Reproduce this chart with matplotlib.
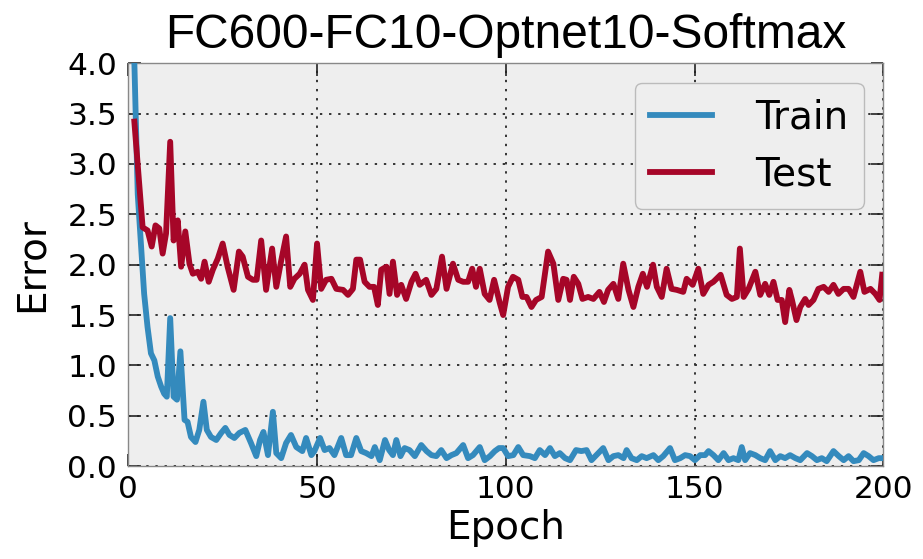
import numpy as np
import matplotlib
matplotlib.use("Agg")
import matplotlib.pyplot as plt

# values
train_epoch = [1.2, 2.5, 3.4, 4.2, 5.1, 6.0, 6.9, 7.8, 8.7, 9.5, 10.2, 11.1, 12.0, 12.9, 13.8,
               14.9, 15.7, 16.6, 17.8, 18.8, 19.9, 20.8, 21.9, 23.3, 24.6, 25.7, 26.8, 28.1,
               29.4, 31.0, 32.5, 33.9, 34.9, 35.8, 37.0, 38.3, 39.2, 40.5, 41.8, 43.1, 44.5,
               46.1, 47.1, 48.5, 49.3, 50.8, 52.0, 53.3, 54.6, 56.4, 57.7, 59.0, 60.4, 61.7,
               63.0, 64.4, 65.3, 66.6, 68.0, 69.1, 70.1, 71.0, 72.1, 73.2, 74.5, 75.9, 77.6,
               79.0, 80.3, 81.6, 82.9, 84.3, 85.6, 86.9, 88.7, 90.0, 91.3, 93.1, 94.4, 95.8,
               97.1, 98.2, 99.3, 100.6, 102.0, 103.3, 104.6, 106.4, 107.7, 109.0, 110.4, 111.7,
               113.0, 114.3, 115.7, 117.0, 118.6, 120.0, 121.4, 122.7, 124.0, 125.8, 127.2,
               128.5, 129.8, 131.2, 132.0, 133.3, 134.7, 136.0, 137.3, 139.1, 140.4, 141.7,
               143.5, 144.8, 146.2, 147.5, 148.8, 150.1, 151.5, 152.8, 153.7, 155.0, 156.3,
               157.7, 159.0, 160.3, 161.6, 162.5, 163.4, 164.7, 166.1, 167.4, 168.7, 170.0,
               171.4, 172.7, 174.0, 175.3, 176.7, 178.0, 179.8, 181.1, 182.4, 183.7, 185.0,
               186.8, 188.2, 189.5, 190.8, 192.1, 193.5, 194.8, 196.1, 197.4, 198.8, 199.7]
train_err = [4.6, 2.7, 2.18, 1.71, 1.38, 1.12, 1.05, 0.89, 0.79, 0.72, 0.69, 1.47, 0.69, 0.66, 1.14,
             0.46, 0.44, 0.29, 0.24, 0.36, 0.64, 0.36, 0.29, 0.26, 0.33, 0.38, 0.31, 0.28,
             0.33, 0.36, 0.23, 0.10, 0.26, 0.34, 0.11, 0.54, 0.13, 0.08, 0.23, 0.31, 0.19,
             0.15, 0.28, 0.11, 0.15, 0.28, 0.16, 0.18, 0.11, 0.28, 0.11, 0.11, 0.28, 0.15,
             0.13, 0.10, 0.19, 0.06, 0.26, 0.16, 0.11, 0.26, 0.10, 0.18, 0.16, 0.10, 0.21,
             0.15, 0.11, 0.10, 0.16, 0.08, 0.11, 0.13, 0.21, 0.08, 0.11, 0.19, 0.06, 0.10,
             0.15, 0.18, 0.18, 0.10, 0.11, 0.19, 0.11, 0.10, 0.08, 0.16, 0.11, 0.18,
             0.10, 0.13, 0.08, 0.06, 0.16, 0.15, 0.16, 0.06, 0.11, 0.18, 0.06,
             0.10, 0.11, 0.08, 0.16, 0.08, 0.06, 0.10, 0.08, 0.11, 0.06, 0.10,
             0.18, 0.06, 0.08, 0.11, 0.10, 0.06, 0.11, 0.11, 0.15, 0.11, 0.06,
             0.13, 0.06, 0.08, 0.06, 0.19, 0.06, 0.13, 0.11, 0.08, 0.06, 0.15,
             0.06, 0.10, 0.08, 0.11, 0.08, 0.06, 0.13, 0.10, 0.06, 0.08, 0.05,
             0.15, 0.10, 0.06, 0.10, 0.05, 0.06, 0.13, 0.10, 0.06, 0.08, 0.08]

test_epoch = [1.6, 3.8, 5.1, 6.2, 7.2, 8.2, 9.1, 10.0, 11.1, 12.0, 13.1, 14.0, 15.1, 16.2, 17.1,
              18.4, 19.3, 20.2, 21.3, 22.4, 23.7, 25.0, 26.3, 27.9, 29.3, 30.3, 31.7, 33.0,
              34.0, 35.2, 36.5, 38.1, 39.2, 40.5, 41.8, 42.9, 44.0, 45.4, 46.7, 47.6, 48.9,
              50.0, 51.1, 52.4, 53.8, 55.1, 56.9, 58.2, 59.5, 60.4, 61.4, 62.6, 63.9, 65.1,
              66.1, 67.0, 68.4, 69.2, 70.1, 71.2, 72.3, 73.6, 75.0, 76.1, 77.2, 78.9, 80.3,
              81.6, 83.1, 84.3, 86.0, 87.4, 88.7, 90.0, 91.1, 92.1, 93.1, 94.4, 95.7, 96.9,
              98.4, 99.3, 100.6, 101.9, 103.3, 104.4, 105.5, 106.8, 108.0, 109.5, 111.2,
              112.6, 113.9, 115.2, 116.1, 117.0, 118.0, 119.2, 120.3, 121.8, 123.2, 124.8,
              126.0, 127.1, 128.5, 129.8, 131.1, 132.5, 133.8, 135.1, 136.3, 137.4, 139.0,
              140.0, 141.3, 142.6, 143.9, 145.3, 147.0, 147.9, 149.5, 151.0, 152.3, 153.7,
              155.0, 156.9, 158.5, 159.9, 161.2, 162.0, 163.0, 164.3, 166.1, 167.4, 168.7,
              169.8, 170.9, 172.0, 173.1, 174.0, 175.1, 175.8, 177.0, 178.0, 179.3, 180.2,
              181.5, 182.8, 184.2, 185.5, 186.8, 188.1, 189.5, 190.8, 192.1, 193.9, 195.0,
              196.6, 197.9, 199.0, 199.7]
test_err = [3.42, 2.37, 2.34, 2.18, 2.39, 2.36, 2.11, 2.31, 3.22, 2.24, 2.44, 1.98, 2.33, 2.01, 1.91,
            1.93, 1.86, 2.03, 1.83, 1.95, 2.06, 2.21, 1.98, 1.75, 2.13, 2.08, 1.88, 1.85,
            1.85, 2.24, 1.75, 2.16, 1.78, 2.04, 2.28, 1.78, 1.86, 1.91, 2.00, 1.75, 1.65,
            2.21, 1.76, 1.85, 1.86, 1.76, 1.75, 1.70, 1.76, 2.05, 2.05, 1.83, 1.78, 1.78,
            1.60, 1.95, 1.98, 1.71, 2.03, 1.70, 1.80, 1.66, 1.83, 1.91, 1.80, 1.85, 1.70,
            1.76, 2.08, 1.76, 2.01, 1.85, 1.83, 1.83, 1.96, 1.78, 1.96, 1.71, 1.65, 1.85,
            1.62, 1.50, 1.78, 1.88, 1.85, 1.68, 1.68, 1.58, 1.65, 1.68, 2.13,
            2.01, 1.65, 1.86, 1.85, 1.65, 1.88, 1.81, 1.66, 1.68, 1.66, 1.73,
            1.63, 1.75, 1.81, 1.66, 2.01, 1.75, 1.58, 1.78, 1.91, 1.78, 2.00,
            1.78, 1.68, 1.96, 1.76, 1.75, 1.73, 1.86, 1.80, 1.96, 1.71, 1.80,
            1.83, 1.90, 1.70, 1.66, 1.68, 2.16, 1.68, 1.76, 1.93, 1.70, 1.81,
            1.70, 1.83, 1.65, 1.65, 1.43, 1.75, 1.65, 1.45, 1.58, 1.66, 1.60,
            1.65, 1.76, 1.78, 1.73, 1.80, 1.71, 1.76, 1.76, 1.68, 1.93, 1.73,
            1.76, 1.71, 1.65, 1.90]

blue = '#348ABD'
red = '#A60628'

fig = plt.figure(figsize=(9.23, 5.59), dpi=100)
ax = fig.add_axes([0.139, 0.166, 0.818, 0.721])
ax.set_facecolor('#EEEEEE')

ax.plot(train_epoch, train_err, color=blue, lw=4.2, label='Train', zorder=3)
ax.plot(test_epoch, test_err, color=red, lw=4.2, label='Test', zorder=3)

ax.set_xlim(0, 200)
ax.set_ylim(0, 4)
ax.set_xticks([0, 50, 100, 150, 200])
ax.set_yticks(np.arange(0, 4.01, 0.5))
ax.set_yticklabels(['%.1f' % v for v in np.arange(0, 4.01, 0.5)])

ax.grid(True, color='#333333', linestyle=(0, (1.2, 3.5)), linewidth=1.4)
ax.set_axisbelow(True)
for s in ax.spines.values():
    s.set_color('#888888')
    s.set_linewidth(1)

ax.tick_params(direction='in', length=9, width=1.2, top=True, right=True,
               labelsize=22.5, color='#222222')
ax.tick_params(axis='y', pad=8)
ax.tick_params(axis='x', pad=6)

ax.set_xlabel('Epoch', fontsize=28, labelpad=4)
ax.set_ylabel('Error', fontsize=28, labelpad=12)
ax.set_title('FC600-FC10-Optnet10-Softmax', fontsize=34.5,
             fontfamily='Liberation Sans', pad=11)

leg = ax.legend(loc='upper right', fontsize=28, handlelength=1.6, handletextpad=1.1,
                borderaxespad=0.5, framealpha=1, fancybox=True)
leg.get_frame().set_facecolor('#EEEEEE')
leg.get_frame().set_edgecolor('#BBBBBB')

fig.savefig('out.png', dpi=100)
